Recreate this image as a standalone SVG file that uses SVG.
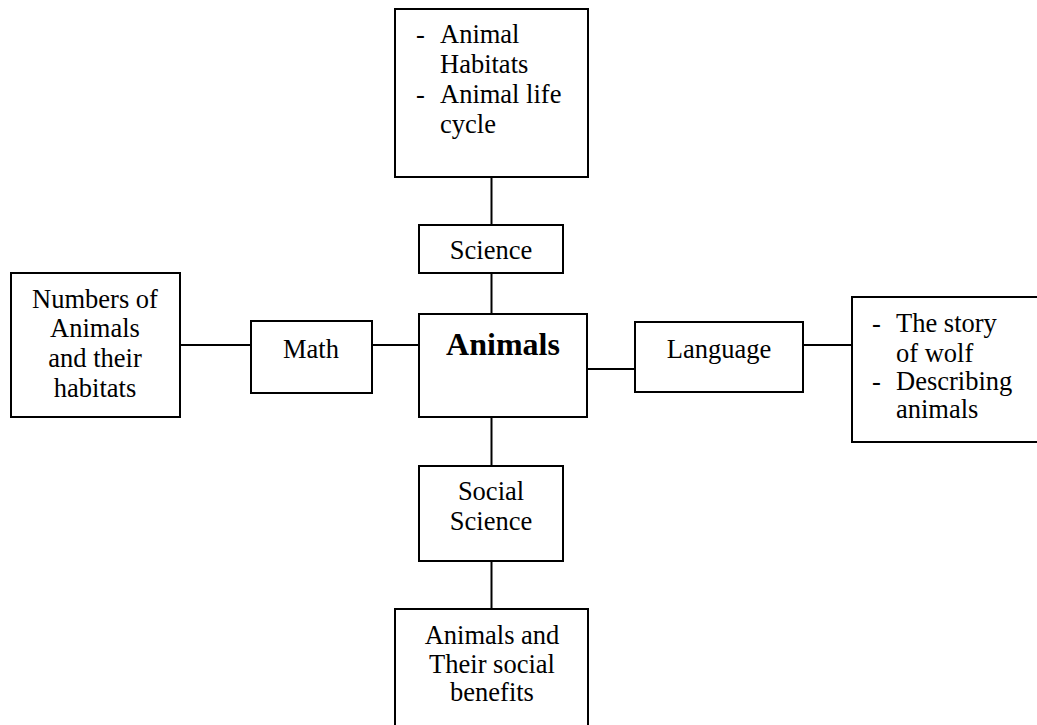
<svg xmlns="http://www.w3.org/2000/svg" width="1037" height="725" viewBox="0 0 1037 725">
<style>
rect{fill:#fff;stroke:#000;stroke-width:2}
line{stroke:#000;stroke-width:2}
text{font-family:"Liberation Serif","Times New Roman",serif;font-size:26.5px;fill:#000}
.c{text-anchor:middle}
.b{font-weight:bold;font-size:32px}
</style>
<rect x="0" y="0" width="1037" height="725" style="stroke:none"/>
<g id="connectors">
<line x1="491.5" y1="177" x2="491.5" y2="225"/>
<line x1="491.5" y1="273" x2="491.5" y2="314"/>
<line x1="491.5" y1="417" x2="491.5" y2="466"/>
<line x1="491.5" y1="561" x2="491.5" y2="609"/>
<line x1="180" y1="345" x2="251" y2="345"/>
<line x1="372" y1="345" x2="419" y2="345"/>
<line x1="587" y1="369" x2="635" y2="369"/>
<line x1="803" y1="345" x2="852" y2="345"/>
</g>
<g id="science-topics">
<rect x="395" y="9" width="193" height="168"/>
<text x="416" y="43">-</text><text x="440" y="43">Animal</text>
<text x="440" y="73">Habitats</text>
<text x="416" y="103">-</text><text x="440" y="103">Animal life</text>
<text x="440" y="133">cycle</text>
</g>
<g id="science">
<rect x="419" y="225" width="144" height="48"/>
<text class="c" x="491" y="259">Science</text>
</g>
<g id="animals">
<rect x="419" y="314" width="168" height="103"/>
<text class="c b" x="503" y="355">Animals</text>
</g>
<g id="math">
<rect x="251" y="321" width="121" height="72"/>
<text class="c" x="311" y="358">Math</text>
</g>
<g id="math-topics">
<rect x="11" y="273" width="169" height="144"/>
<text class="c" x="95" y="308">Numbers of</text>
<text class="c" x="95" y="337">Animals</text>
<text class="c" x="95" y="367">and their</text>
<text class="c" x="95" y="397">habitats</text>
</g>
<g id="language">
<rect x="635" y="322" width="168" height="70"/>
<text class="c" x="719" y="358">Language</text>
</g>
<g id="language-topics">
<rect x="852" y="297" width="190" height="145"/>
<text x="872" y="332">-</text><text x="896" y="332">The story</text>
<text x="896" y="362">of wolf</text>
<text x="872" y="390">-</text><text x="896" y="390">Describing</text>
<text x="896" y="418">animals</text>
</g>
<g id="social-science">
<rect x="419" y="466" width="144" height="95"/>
<text class="c" x="491" y="500">Social</text>
<text class="c" x="491" y="530">Science</text>
</g>
<g id="social-topics">
<rect x="395" y="609" width="193" height="130"/>
<text class="c" x="492" y="644">Animals and</text>
<text class="c" x="492" y="673">Their social</text>
<text class="c" x="492" y="701">benefits</text>
</g>
</svg>
